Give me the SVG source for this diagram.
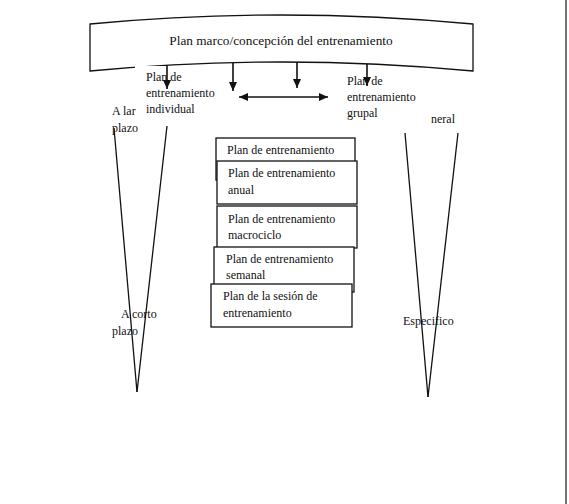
<svg xmlns="http://www.w3.org/2000/svg" width="569" height="504" viewBox="0 0 569 504">
<style>
text{font-family:"Liberation Serif","Times New Roman",serif;font-size:12px;fill:#111}
.ln{stroke:#111;stroke-width:1.3;fill:none}
.box{fill:#fff;stroke:#111;stroke-width:1.3}
.arr{stroke:#111;stroke-width:1.6;fill:none;marker-end:url(#ah)}
</style>
<defs>
<marker id="ah" markerUnits="userSpaceOnUse" markerWidth="10" markerHeight="9" refX="9" refY="4" orient="auto-start-reverse" viewBox="0 0 10 9">
<path d="M0,0 L9,4 L0,8 z" fill="#111"/>
</marker>
</defs>
<rect width="569" height="504" fill="#fff"/>
<line x1="566" y1="0" x2="566" y2="504" stroke="#444" stroke-width="1.5"/>
<g id="banner">
<path class="ln" d="M90,24 Q281,6 473,24 L473,71 Q281,53 90,71 Z" fill="#fff"/>
<text x="281" y="45" text-anchor="middle" style="font-size:13.3px">Plan marco/concepción del entrenamiento</text>
</g>
<g id="label-individual">
<rect x="135" y="66" width="84" height="56" fill="#fff"/>
<text x="146" y="81">Plan de</text>
<text x="146" y="97">entrenamiento</text>
<text x="146" y="113">individual</text>
</g>
<g id="label-grupal">
<text x="347" y="85">Plan de</text>
<text x="347" y="101">entrenamiento</text>
<text x="347" y="117">grupal</text>
</g>
<g id="funnel-left">
<text x="112" y="115">A lar</text>
<text x="112" y="132">plazo</text>
<line class="ln" x1="114" y1="128" x2="137" y2="392"/>
<line class="ln" x1="167" y1="126" x2="137" y2="392"/>
<text x="121" y="318">A corto</text>
<text x="112" y="335">plazo</text>
</g>
<g id="funnel-right">
<text x="431" y="123">neral</text>
<line class="ln" x1="405" y1="133" x2="428" y2="397"/>
<line class="ln" x1="458" y1="133" x2="428" y2="397"/>
<text x="403" y="325">Especifico</text>
</g>
<g id="connectors">
<line class="arr" x1="167" y1="65" x2="167" y2="89"/>
<line class="arr" x1="233" y1="62.6" x2="233" y2="91"/>
<line class="arr" x1="297" y1="62" x2="297" y2="88"/>
<line class="arr" x1="367" y1="64" x2="367" y2="86"/>
<line class="arr" x1="239" y1="97" x2="328" y2="97" style="marker-start:url(#ah)"/>
</g>
<g id="box1">
<rect class="box" x="216" y="138" width="139" height="42"/>
<text x="227" y="154">Plan de entrenamiento</text>
</g>
<g id="box2">
<rect class="box" x="217" y="161" width="140" height="43"/>
<text x="228" y="177">Plan de entrenamiento</text>
<text x="228" y="194">anual</text>
</g>
<g id="box3">
<rect class="box" x="217" y="206" width="140" height="42"/>
<text x="228" y="223">Plan de entrenamiento</text>
<text x="228" y="239">macrociclo</text>
</g>
<g id="box4">
<rect class="box" x="214" y="247" width="140" height="45"/>
<text x="226" y="263">Plan de entrenamiento</text>
<text x="226" y="279">semanal</text>
</g>
<g id="box5">
<rect class="box" x="211" y="284" width="141" height="43"/>
<text x="223" y="300">Plan de la sesión de</text>
<text x="223" y="317">entrenamiento</text>
</g>
</svg>
